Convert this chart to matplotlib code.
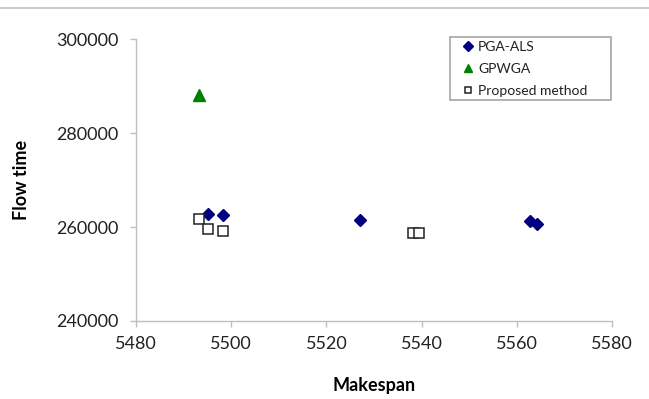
import matplotlib.pyplot as plt
from matplotlib.lines import Line2D
from matplotlib.patches import Rectangle

plt.rcParams["font.family"] = ["Lato", "DejaVu Sans"]

# data
pga_x = [5495.2, 5498.2, 5527.0, 5562.8, 5564.2]
pga_y = [262740, 262500, 261400, 261250, 260550]
gpw_x = [5493.2]
gpw_y = [288000]
prop_x = [5493.2, 5495.2, 5498.2, 5538.2, 5539.5]
prop_y = [261600, 259500, 259130, 258700, 258700]

fig = plt.figure(figsize=(6.49, 3.99), dpi=100)
ax = fig.add_axes([0.2096, 0.1955, 0.7334, 0.7067])

ax.plot(pga_x, pga_y, "D", color="#000080", markersize=6.5, linestyle="none", label="PGA-ALS")
ax.plot(gpw_x, gpw_y, "^", color="#008000", markersize=8, linestyle="none", label="GPWGA")
ax.plot(prop_x, prop_y, "s", markerfacecolor="white", markeredgecolor="#222222",
        markeredgewidth=1.1, markersize=6.5, linestyle="none", label="Proposed method")

ax.set_xlim(5480, 5580)
ax.set_ylim(240000, 300000)
ax.set_xticks([5480, 5500, 5520, 5540, 5560, 5580])
ax.set_yticks([240000, 260000, 280000, 300000])

for s in ["top", "right"]:
    ax.spines[s].set_visible(False)
for s in ["left", "bottom"]:
    ax.spines[s].set_color("#bfbfbf")
    ax.spines[s].set_linewidth(1.0)
ax.tick_params(colors="#bfbfbf", length=4.5, width=1.0, labelsize=13, labelcolor="#222222")
ax.tick_params(axis="x", pad=6)
ax.tick_params(axis="y", pad=8)

ax.set_xlabel("Makespan", fontsize=13, fontweight="bold", labelpad=18)
ax.set_ylabel("Flow time", fontsize=13, fontweight="bold", labelpad=19)

# legend without its own frame, box drawn separately (Excel style padding)
leg = ax.legend(loc="upper left", bbox_to_anchor=(0.685, 0.993), borderaxespad=0,
                fontsize=10, frameon=False, handlelength=0.8,
                handletextpad=0.35, labelspacing=0.72, borderpad=0, markerscale=0.75)
for t in leg.get_texts():
    t.set_color("#222222")
box = Rectangle((0.6597, 0.7837), 0.3383, 0.2234, transform=ax.transAxes,
                fill=False, edgecolor="#a6a6a6", linewidth=1.2, clip_on=False)
ax.add_patch(box)

fig.add_artist(Line2D([0, 1], [0.981, 0.981], transform=fig.transFigure,
                      color="#cccccc", linewidth=1.5))

fig.savefig("out.png", dpi=100)
